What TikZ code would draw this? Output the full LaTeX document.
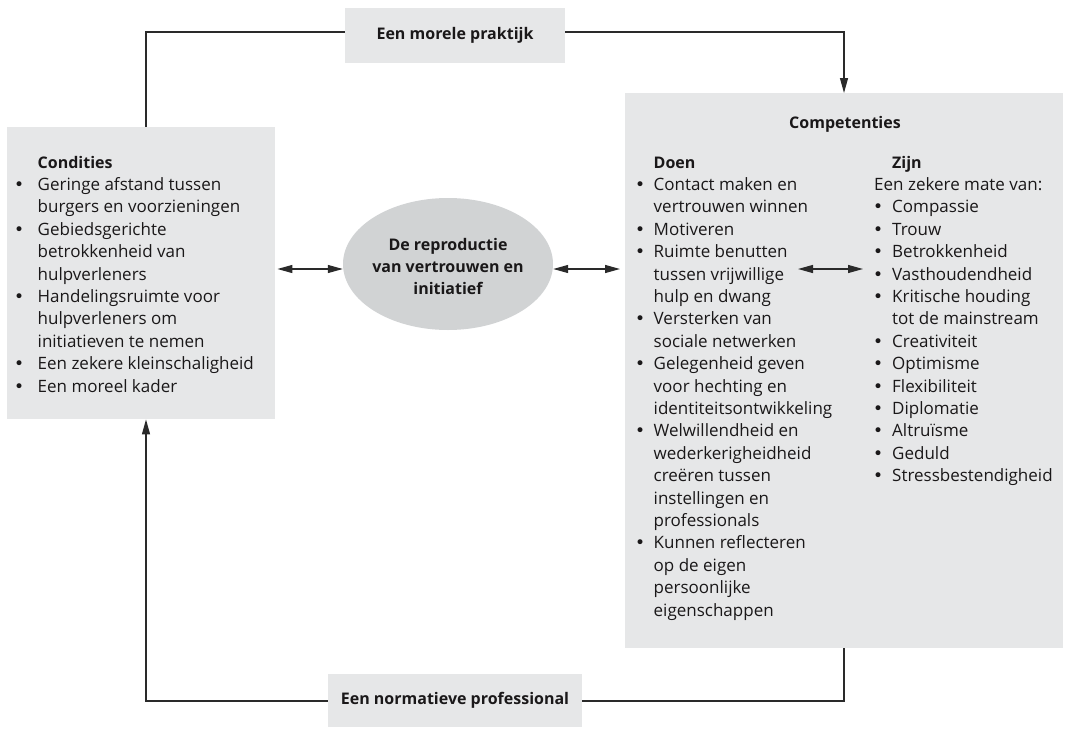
\documentclass[tikz,border=0pt]{standalone}
\usepackage{fontspec}
\setmainfont{Open Sans}
\newfontfamily\bulletfont{DejaVu Sans}
\usetikzlibrary{arrows.meta,shapes.geometric}
\definecolor{ink}{HTML}{1A1819}
\definecolor{panel}{HTML}{E6E7E8}
\definecolor{oval}{HTML}{D1D3D4}
\definecolor{wire}{HTML}{2A2A2A}
\newlength\bw
\newlength\bo
\newcommand{\itm}{\makebox[\bw][l]{\hspace*{\bo}\makebox[0pt][c]{\bulletfont\fontsize{17}{17}\selectfont •}}}
\newcommand{\cnt}{\hspace*{\bw}}
\newcommand{\bodyfont}{\fontsize{17}{22.4}\selectfont}
\newcommand{\headfont}{\fontsize{16}{22.4}\selectfont\bfseries}
\newcommand{\head}[1]{{\headfont #1}}
\tikzset{
  panelbox/.style={fill=panel, draw=none, inner sep=0pt},
  tagbox/.style={fill=panel, draw=none, inner sep=0pt, font=\headfont, text=ink},
  coltext/.style={inner sep=0pt, anchor=base west, text=ink, font=\bodyfont},
  flow/.style={draw=wire, line width=1.2pt},
  tip/.style={-{Triangle[length=15pt,width=8pt]}},
  both/.style={{Triangle[length=15pt,width=8pt]}-{Triangle[length=15pt,width=8pt]}}
}
\begin{document}
\begin{tikzpicture}[x=1pt,y=-1pt]
\useasboundingbox (0,0) rectangle (1067,728);

% grey panels and the central oval
\node[panelbox, minimum width=268pt, minimum height=292pt, anchor=north west] (cond) at (7,127) {};
\node[panelbox, minimum width=438pt, minimum height=555pt, anchor=north west] (comp) at (625,93) {};
\node[ellipse, fill=oval, inner sep=0pt, minimum width=210pt, minimum height=132pt] (repro) at (448,264) {};
\node[tagbox, minimum width=220pt, minimum height=55pt] (moral) at (455,35.5) {Een morele praktijk};
\node[tagbox, minimum width=254pt, minimum height=53pt] (norm) at (455,700.5) {Een normatieve professional};

% text in the oval
\node[inner sep=0pt, anchor=base, text=ink, font=\headfont] (reprotext) at (448,250)
  {\parbox[t]{200pt}{\headfont\centering De reproductie\\ van vertrouwen en\\ initiatief}};

% conditions
\node[coltext] (condlist) at (10,168) {\parbox[t]{262pt}{\setlength\bw{27.5pt}\setlength\bo{9pt}\bodyfont
\cnt\head{Condities}\\
\itm Geringe afstand tussen\\
\cnt burgers en voorzieningen\\
\itm Gebiedsgerichte\\
\cnt betrokkenheid van\\
\cnt hulpverleners\\
\itm Handelingsruimte voor\\
\cnt hulpverleners om\\
\cnt initiatieven te nemen\\
\itm Een zekere kleinschaligheid\\
\itm Een moreel kader}};

% competences
\node[inner sep=0pt, anchor=base, text=ink, font=\headfont] (comptitle) at (845,128) {Competenties};

\node[coltext] (doen) at (630,168) {\parbox[t]{230pt}{\setlength\bw{23.5pt}\setlength\bo{10pt}\bodyfont
\cnt\head{Doen}\\
\itm Contact maken en\\
\cnt vertrouwen winnen\\
\itm Motiveren\\
\itm Ruimte benutten\\
\cnt tussen vrijwillige\\
\cnt hulp en dwang\\
\itm Versterken van\\
\cnt sociale netwerken\\
\itm Gelegenheid geven\\
\cnt voor hechting en\\
\cnt identiteitsontwikkeling\\
\itm Welwillendheid en\\
\cnt wederkerigheidheid\\
\cnt creëren tussen\\
\cnt instellingen en\\
\cnt professionals\\
\itm Kunnen reflecteren\\
\cnt op de eigen\\
\cnt persoonlijke\\
\cnt eigenschappen}};

\node[coltext] (zijn) at (874,168) {\parbox[t]{190pt}{\setlength\bw{18pt}\setlength\bo{4pt}\bodyfont
\cnt\head{Zijn}\\
Een zekere mate van:\\
\itm Compassie\\
\itm Trouw\\
\itm Betrokkenheid\\
\itm Vasthoudendheid\\
\itm Kritische houding\\
\cnt tot de mainstream\\
\itm Creativiteit\\
\itm Optimisme\\
\itm Flexibiliteit\\
\itm Diplomatie\\
\itm Altruïsme\\
\itm Geduld\\
\itm Stressbestendigheid}};

% cycle around the outside
\coordinate (tl) at (146,32);
\coordinate (tr) at (844,32);
\coordinate (br) at (844,701);
\coordinate (bl) at (146,701);
\draw[flow] (cond.north -| tl) -- (tl) -- (moral.west |- tl);
\draw[flow, tip] (moral.east |- tr) -- (tr) -- (comp.north -| tr);
\draw[flow] (comp.south -| br) -- (br) -- (norm.east |- br);
\draw[flow, tip] (norm.west |- bl) -- (bl) -- (cond.south -| bl);

% links with the central oval
\coordinate (ay) at (0,269);
\draw[flow, both, shorten <=2pt] (cond.east |- ay) -- (repro.west |- ay);
\draw[flow, both, shorten >=5pt] (repro.east |- ay) -- (comp.west |- ay);

% link between the two columns
\coordinate (dl) at (798,269);
\coordinate (dr) at (863,269);
\draw[flow, both] (dl) -- (dr);
\end{tikzpicture}
\end{document}
